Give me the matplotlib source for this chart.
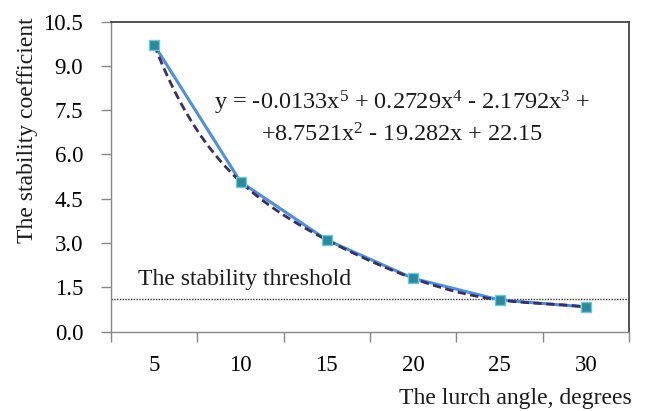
import numpy as np
import matplotlib
matplotlib.use("Agg")
import matplotlib.pyplot as plt

plt.rcParams['font.family'] = ['Liberation Serif', 'DejaVu Serif']
plt.rcParams['mathtext.fontset'] = 'custom'
plt.rcParams['mathtext.rm'] = 'Liberation Serif'
plt.rcParams['mathtext.it'] = 'Liberation Serif:italic'

angles = ["5", "10", "15", "20", "25", "30"]
stability = [9.71, 5.07, 3.10, 1.80, 1.07, 0.83]
threshold = 1.1
y_ticks = [0.0, 1.5, 3.0, 4.5, 6.0, 7.5, 9.0, 10.5]
equation = ("y = -0.0133x$^5$ + 0.2729x$^4$ - 2.1792x$^3$ +\n"
            "+8.7521x$^2$ - 19.282x + 22.15")

fig = plt.figure(figsize=(6.45, 4.11), dpi=100)
ax = fig.add_axes([111/645, 1-331.5/411, (629-111)/645, (331.5-21.5)/411])

pos = np.arange(1, len(angles)+1)
# polynomial trendline (degree 5)
coef = np.polyfit(pos, stability, 5)
xs = np.linspace(1, 6, 300)
ax.plot(xs, np.polyval(coef, xs), color='#3a2f5e', lw=2.0, ls=(0, (3, 1.6)), zorder=4)
ax.plot(pos, stability, color='#4f8fdc', lw=2.2, zorder=3)
ax.plot(pos, stability, ls='none', marker='s', ms=6.5, mfc='#2a8a9a', mec='#6cc8d8', mew=1.0, zorder=5)

ax.axhline(threshold, color='#333333', lw=1.0, ls=(0, (1, 1)), zorder=2)
ax.text(0.81, threshold + 0.3, "The stability threshold", fontsize=17, color='#1a1a1a',
        ha='left', va='bottom')

ax.set_xlim(0.5, 6.5)
ax.set_ylim(0, 10.5)
ax.set_yticks(y_ticks)
ax.set_yticklabels([f"{v:.1f}" for v in y_ticks], fontsize=16.5)
ax.set_xticks(pos)
ax.set_xticklabels(angles, fontsize=16.5)
ax.set_xticks(np.arange(0.5, 7.0, 1.0), minor=True)
ax.tick_params(axis='x', which='major', length=0, pad=17)
ax.tick_params(axis='x', which='minor', length=7, width=1, color='#888888', direction='out')
ax.tick_params(axis='y', length=7, width=1, color='#888888', direction='out', pad=13)

for s in ['left', 'bottom']:
    ax.spines[s].set_color('#888888')
    ax.spines[s].set_linewidth(1.0)
for s in ['top', 'right']:
    ax.spines[s].set_color('#444444')
    ax.spines[s].set_linewidth(1.3)

ax.text(402/645, 1-117.5/411, equation, transform=fig.transFigure, fontsize=17.5,
        ha='center', va='center', linespacing=1.35, color='#1a1a1a')

fig.text(632/645, 1-398/411, "The lurch angle, degrees", fontsize=17, ha='right', va='center', color='#1a1a1a')
fig.text(28/645, 1-130/411, "The stability coefficient", fontsize=17, rotation=90,
         ha='center', va='center', color='#1a1a1a')

fig.savefig("out.png", dpi=100)
